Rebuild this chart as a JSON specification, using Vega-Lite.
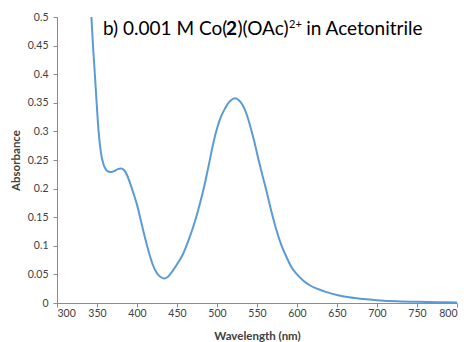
{
  "$schema": "https://vega.github.io/schema/vega-lite/v6.json",
  "width": 400,
  "height": 286,
  "autosize": "none",
  "padding": {"left": 57, "top": 17, "right": 12, "bottom": 39},
  "background": "white",
  "config": {
    "view": {"stroke": null},
    "font": "Lato",
    "axis": {
      "grid": false,
      "domainColor": "#8c8c8c",
      "tickColor": "#8c8c8c",
      "tickSize": 4,
      "labelFont": "Lato",
      "labelFontSize": 10.5,
      "labelColor": "#404040",
      "titleFont": "Lato",
      "titleFontSize": 11.5,
      "titleFontWeight": "bold",
      "titleColor": "#404040"
    }
  },
  "datasets": {
    "spectrum": [
      {"wl": 340, "abs": 0.6},
      {"wl": 343, "abs": 0.5},
      {"wl": 345, "abs": 0.45},
      {"wl": 347.5, "abs": 0.396},
      {"wl": 350, "abs": 0.34},
      {"wl": 352, "abs": 0.3},
      {"wl": 355, "abs": 0.262},
      {"wl": 358, "abs": 0.243},
      {"wl": 360, "abs": 0.236},
      {"wl": 364, "abs": 0.23},
      {"wl": 368, "abs": 0.229},
      {"wl": 372, "abs": 0.231},
      {"wl": 376, "abs": 0.234},
      {"wl": 380, "abs": 0.235},
      {"wl": 384, "abs": 0.232},
      {"wl": 388, "abs": 0.222},
      {"wl": 392, "abs": 0.207},
      {"wl": 396, "abs": 0.19},
      {"wl": 400, "abs": 0.172},
      {"wl": 405, "abs": 0.143},
      {"wl": 410, "abs": 0.114},
      {"wl": 415, "abs": 0.088},
      {"wl": 420, "abs": 0.066},
      {"wl": 425, "abs": 0.052},
      {"wl": 430, "abs": 0.045},
      {"wl": 434, "abs": 0.043},
      {"wl": 438, "abs": 0.045},
      {"wl": 445, "abs": 0.057},
      {"wl": 452, "abs": 0.072},
      {"wl": 458, "abs": 0.087},
      {"wl": 464, "abs": 0.108},
      {"wl": 470, "abs": 0.132},
      {"wl": 476, "abs": 0.16},
      {"wl": 483, "abs": 0.198},
      {"wl": 490, "abs": 0.243},
      {"wl": 495, "abs": 0.277},
      {"wl": 500, "abs": 0.305},
      {"wl": 505, "abs": 0.326},
      {"wl": 510, "abs": 0.34},
      {"wl": 515, "abs": 0.351},
      {"wl": 520, "abs": 0.357},
      {"wl": 523, "abs": 0.358},
      {"wl": 527, "abs": 0.355},
      {"wl": 532, "abs": 0.346},
      {"wl": 537, "abs": 0.33},
      {"wl": 542, "abs": 0.307},
      {"wl": 547, "abs": 0.28},
      {"wl": 552, "abs": 0.25},
      {"wl": 557, "abs": 0.222},
      {"wl": 562, "abs": 0.195},
      {"wl": 568, "abs": 0.16},
      {"wl": 574, "abs": 0.129},
      {"wl": 580, "abs": 0.103},
      {"wl": 587, "abs": 0.08},
      {"wl": 593, "abs": 0.063},
      {"wl": 600, "abs": 0.05},
      {"wl": 608, "abs": 0.039},
      {"wl": 616, "abs": 0.031},
      {"wl": 625, "abs": 0.025},
      {"wl": 637, "abs": 0.019},
      {"wl": 650, "abs": 0.014},
      {"wl": 665, "abs": 0.01},
      {"wl": 683, "abs": 0.007},
      {"wl": 700, "abs": 0.005},
      {"wl": 725, "abs": 0.003},
      {"wl": 750, "abs": 0.002},
      {"wl": 775, "abs": 0.0015},
      {"wl": 800, "abs": 0.001}
    ],
    "caption": [
      {"seg": "b) 0.001 M Co(", "wl": 357.5, "abs": 0.4677, "kind": "plain"},
      {"seg": "2", "wl": 511.25, "abs": 0.4677, "kind": "bold"},
      {"seg": ")(OAc)", "wl": 525.6, "abs": 0.4677, "kind": "plain"},
      {"seg": "2+", "wl": 590, "abs": 0.481, "kind": "sup"},
      {"seg": "in Acetonitrile", "wl": 611.5, "abs": 0.4677, "kind": "plain"}
    ]
  },
  "encoding": {
    "x": {
      "field": "wl",
      "type": "quantitative",
      "scale": {"domain": [300, 800], "nice": false, "zero": false},
      "axis": {"values": [300, 350, 400, 450, 500, 550, 600, 650, 700, 750, 800], "title": "Wavelength (nm)", "titlePadding": 12, "labelPadding": 1}
    },
    "y": {
      "field": "abs",
      "type": "quantitative",
      "scale": {"domain": [0, 0.5], "nice": false},
      "axis": {"values": [0, 0.05, 0.1, 0.15, 0.2, 0.25, 0.3, 0.35, 0.4, 0.45, 0.5], "format": "~g", "title": "Absorbance", "titlePadding": 6, "labelPadding": 5}
    }
  },
  "layer": [
    {
      "data": {"name": "spectrum"},
      "mark": {"type": "line", "color": "#5b9bd5", "strokeWidth": 2, "interpolate": "monotone", "clip": true}
    },
    {
      "data": {"name": "caption"},
      "transform": [{"filter": "datum.kind === 'plain'"}],
      "mark": {"type": "text", "align": "left", "baseline": "alphabetic", "fontSize": 19, "color": "#000000"},
      "encoding": {"text": {"field": "seg"}}
    },
    {
      "data": {"name": "caption"},
      "transform": [{"filter": "datum.kind === 'bold'"}],
      "mark": {"type": "text", "align": "left", "baseline": "alphabetic", "fontSize": 19, "fontWeight": "bold", "color": "#000000"},
      "encoding": {"text": {"field": "seg"}}
    },
    {
      "data": {"name": "caption"},
      "transform": [{"filter": "datum.kind === 'sup'"}],
      "mark": {"type": "text", "align": "left", "baseline": "alphabetic", "fontSize": 11, "color": "#000000"},
      "encoding": {"text": {"field": "seg"}}
    }
  ]
}
